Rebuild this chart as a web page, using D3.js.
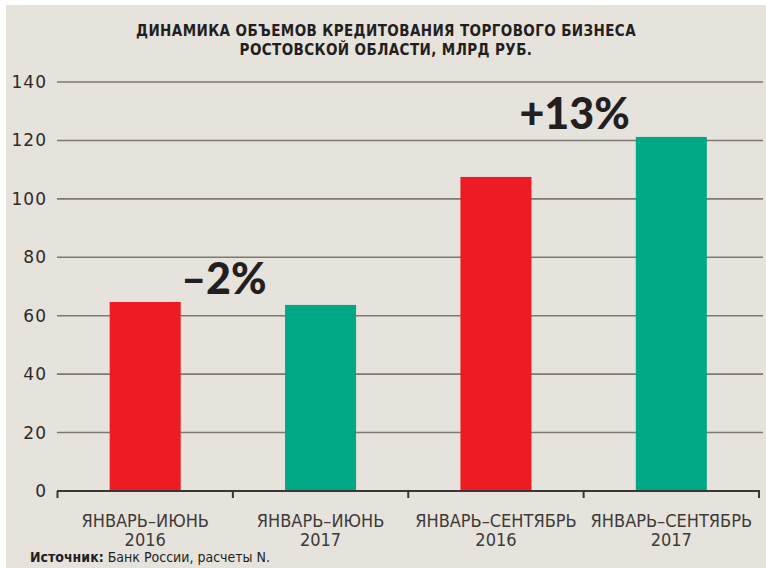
<!DOCTYPE html>
<html>
<head>
<meta charset="utf-8">
<script src="https://cdn.jsdelivr.net/npm/d3@7"></script>
<style>
  body { margin: 0; background: #ffffff; }
</style>
</head>
<body>
<div id="chart"></div>
<script>
// chart data
var categories = ["ЯНВАРЬ–ИЮНЬ|2016", "ЯНВАРЬ–ИЮНЬ|2017", "ЯНВАРЬ–СЕНТЯБРЬ|2016", "ЯНВАРЬ–СЕНТЯБРЬ|2017"];
var values = [64.7, 63.7, 107.5, 121.2];
var barColors = ["#ed1c24", "#00a886", "#ed1c24", "#00a886"];
var yTicks = [0, 20, 40, 60, 80, 100, 120, 140];
var changeLabels = [{ text: "–2%", between: [0, 1] }, { text: "+13%", between: [2, 3] }];
var titleLines = ["ДИНАМИКА ОБЪЕМОВ КРЕДИТОВАНИЯ ТОРГОВОГО БИЗНЕСА", "РОСТОВСКОЙ ОБЛАСТИ, МЛРД РУБ."];

var w = 766, h = 568;

var svg = d3.select("#chart").append("svg")
    .attr("width", w)
    .attr("height", h);

// panel background
svg.append("rect")
    .attr("x", 6).attr("y", 5)
    .attr("width", w - 6).attr("height", h - 5)
    .attr("fill", "#e6e2dc");

var xScale = d3.scaleBand()
    .domain(d3.range(categories.length))
    .range([57.5, 759])
    .padding(0);

var yScale = d3.scaleLinear()
    .domain([0, 140])
    .range([491, 82]);

// title
svg.append("text")
    .attr("x", 386).attr("y", 36)
    .attr("text-anchor", "middle")
    .attr("font-family", "'Liberation Sans Narrow', 'DejaVu Sans Condensed', sans-serif")
    .attr("font-weight", "bold")
    .attr("font-size", 15)
    .attr("letter-spacing", 0.4)
    .attr("fill", "#231f20")
    .selectAll("tspan")
    .data(titleLines)
    .enter().append("tspan")
    .attr("x", 386)
    .attr("dy", function(d, i) { return i === 0 ? 0 : 19; })
    .text(function(d) { return d; });

// gridlines
svg.append("g")
    .selectAll("line")
    .data(yTicks.filter(function(d) { return d > 0; }))
    .enter().append("line")
    .attr("x1", 57).attr("x2", 763)
    .attr("y1", function(d) { return yScale(d); })
    .attr("y2", function(d) { return yScale(d); })
    .attr("stroke", "#7d7872")
    .attr("stroke-width", 1.6);

// y tick labels
svg.append("g")
    .selectAll("text")
    .data(yTicks)
    .enter().append("text")
    .attr("x", 47)
    .attr("y", function(d) { return yScale(d) + 6; })
    .attr("text-anchor", "end")
    .attr("font-family", "'DejaVu Sans', sans-serif")
    .attr("font-size", 17)
    .attr("letter-spacing", 1)
    .attr("fill", "#2d2a28")
    .text(function(d) { return d; });

// bars
var barW = xScale.bandwidth() * 0.405;
svg.append("g")
    .selectAll("rect")
    .data(values)
    .enter().append("rect")
    .attr("x", function(d, i) { return xScale(i) + xScale.bandwidth() / 2 - barW / 2; })
    .attr("y", function(d) { return yScale(d); })
    .attr("width", barW)
    .attr("height", function(d) { return yScale(0) - yScale(d); })
    .attr("fill", function(d, i) { return barColors[i]; });

// x axis
var xAxis = d3.axisBottom(xScale).tickSize(0).tickFormat("");
var gx = svg.append("g")
    .attr("transform", "translate(0," + yScale(0) + ")")
    .call(xAxis);
gx.select(".domain").remove();
gx.append("line")
    .attr("x1", 57).attr("x2", 760)
    .attr("stroke", "#3a3633").attr("stroke-width", 2);
gx.selectAll(".edge")
    .data(d3.range(categories.length + 1))
    .enter().append("line")
    .attr("class", "edge")
    .attr("x1", function(i) { return i < categories.length ? xScale(i) : xScale(i - 1) + xScale.bandwidth(); })
    .attr("x2", function(i) { return i < categories.length ? xScale(i) : xScale(i - 1) + xScale.bandwidth(); })
    .attr("y1", 0).attr("y2", 7)
    .attr("stroke", "#3a3633").attr("stroke-width", 2);

// category labels
var catText = svg.append("g")
    .selectAll("text")
    .data(categories)
    .enter().append("text")
    .attr("x", function(d, i) { return xScale(i) + xScale.bandwidth() / 2; })
    .attr("y", 527)
    .attr("text-anchor", "middle")
    .attr("font-family", "'Liberation Sans Narrow', 'DejaVu Sans Condensed', sans-serif")
    .attr("font-size", 18)
    .attr("fill", "#3d3a37");
catText.selectAll("tspan")
    .data(function(d, i) { return d.split("|").map(function(s) { return { s: s, i: i }; }); })
    .enter().append("tspan")
    .attr("x", function(d) { return xScale(d.i) + xScale.bandwidth() / 2; })
    .attr("dy", function(d, j) { return j === 0 ? 0 : 19; })
    .text(function(d) { return d.s; });

// change annotations, placed over the edge between the two compared bars
svg.append("g")
    .selectAll("text")
    .data(changeLabels)
    .enter().append("text")
    .attr("x", function(d) { return xScale(d.between[1]) - 9; })
    .attr("y", function(d) { return yScale(d3.max(d.between, function(i) { return values[i]; })) - 8; })
    .attr("text-anchor", "middle")
    .attr("font-family", "Lato, 'Open Sans', sans-serif")
    .attr("font-weight", 900)
    .attr("font-size", 43)
    .attr("fill", "#231f20")
    .text(function(d) { return d.text; });

// source
var src = svg.append("text")
    .attr("x", 30).attr("y", 562)
    .attr("font-family", "'Liberation Sans Narrow', 'DejaVu Sans Condensed', sans-serif")
    .attr("font-size", 14)
    .attr("fill", "#231f20");
src.append("tspan").attr("font-weight", "bold").text("Источник:");
src.append("tspan").text(" Банк России, расчеты N.");
</script>
</body>
</html>
